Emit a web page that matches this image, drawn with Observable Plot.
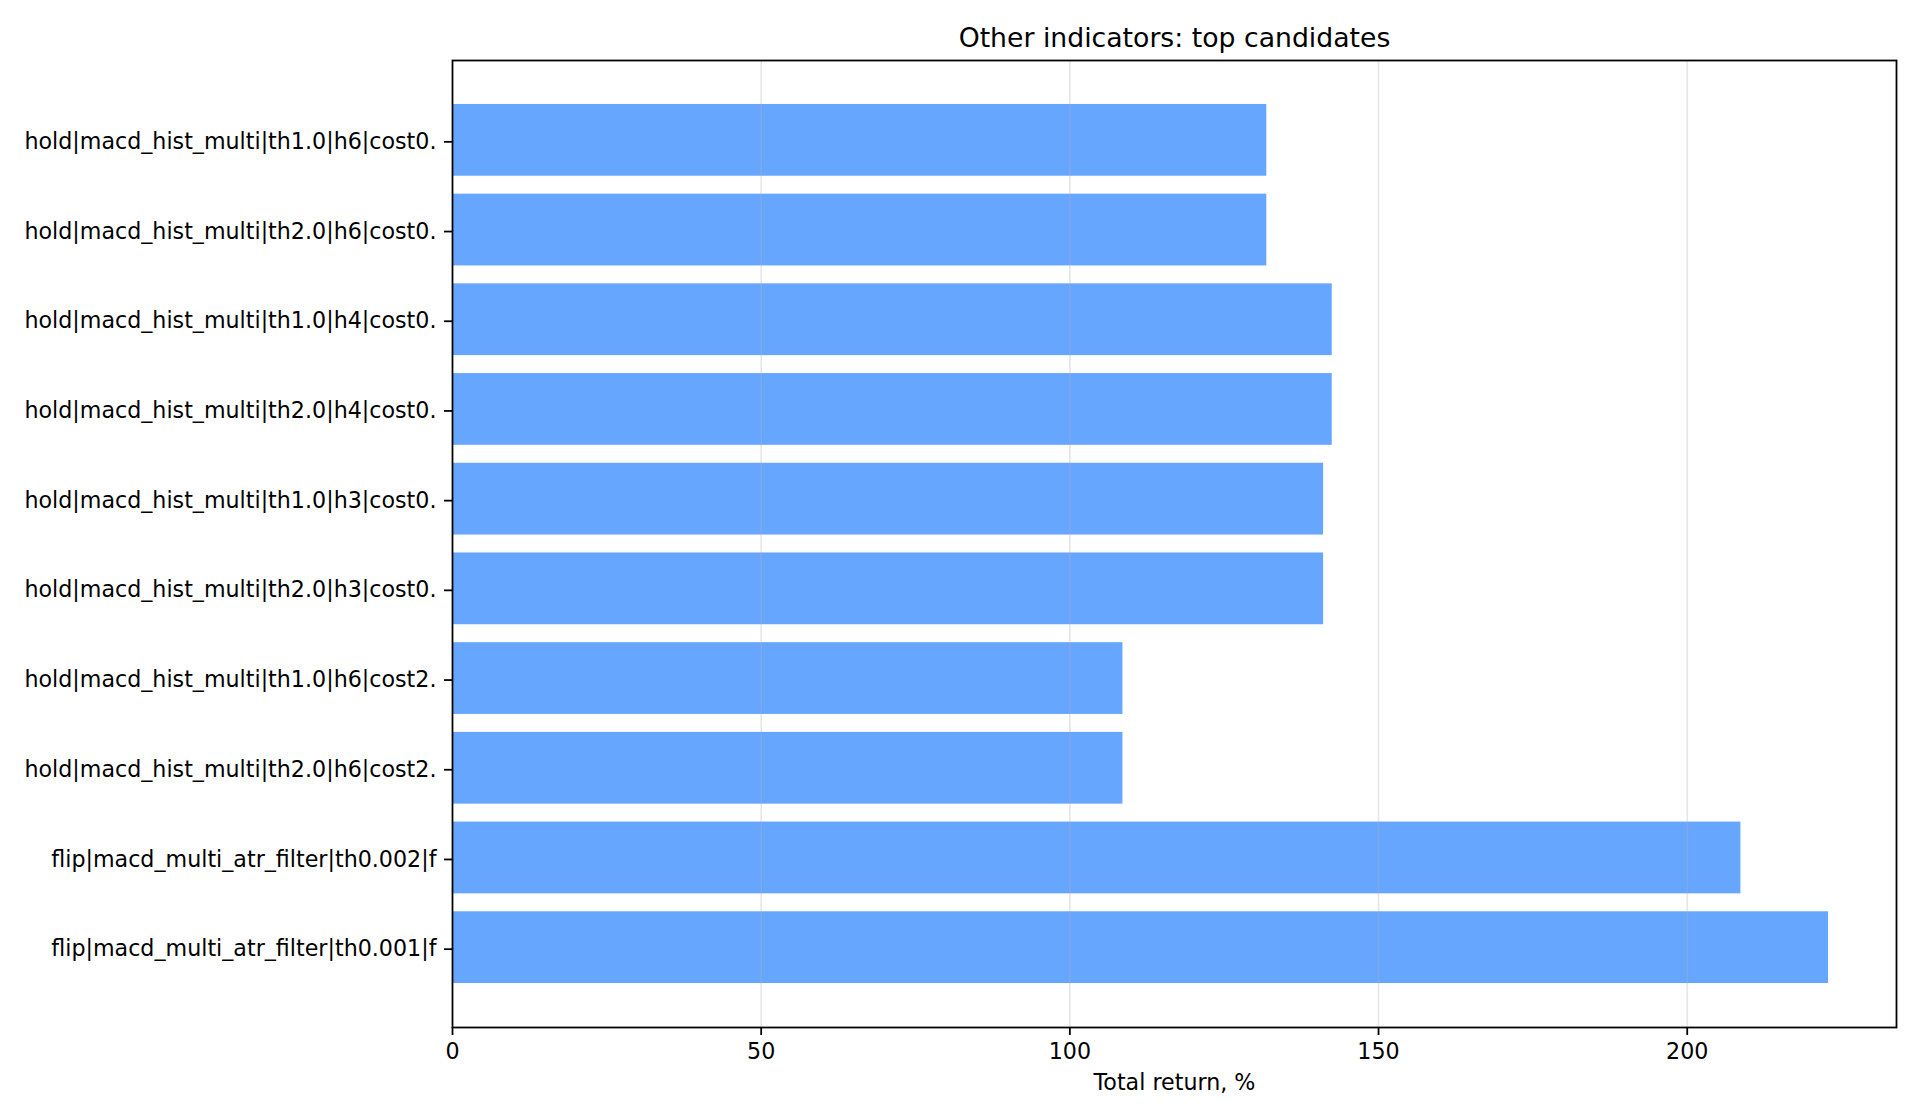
<!DOCTYPE html>
<html>
<head>
<meta charset="utf-8">
<script src="https://cdn.jsdelivr.net/npm/d3@7"></script>
<script src="https://cdn.jsdelivr.net/npm/@observablehq/plot@0.6"></script>
<style>
  html, body { margin: 0; padding: 0; background: #fff; }
</style>
</head>
<body>
<div id="chart"></div>
<script>
const title = "Other indicators: top candidates";
const xLabel = "Total return, %";
const labels = [
  "hold|macd_hist_multi|th1.0|h6|cost0.",
  "hold|macd_hist_multi|th2.0|h6|cost0.",
  "hold|macd_hist_multi|th1.0|h4|cost0.",
  "hold|macd_hist_multi|th2.0|h4|cost0.",
  "hold|macd_hist_multi|th1.0|h3|cost0.",
  "hold|macd_hist_multi|th2.0|h3|cost0.",
  "hold|macd_hist_multi|th1.0|h6|cost2.",
  "hold|macd_hist_multi|th2.0|h6|cost2.",
  "flip|macd_multi_atr_filter|th0.002|f",
  "flip|macd_multi_atr_filter|th0.001|f"
];
const values = [131.9, 131.9, 142.5, 142.5, 141.1, 141.1, 108.6, 108.6, 208.7, 222.9];
const xTicks = [0, 50, 100, 150, 200];
const xMax = 233.9;

const data = labels.map((label, i) => ({label, value: values[i]}));

const fs = 22.2;
const lw = 1.78;
const chart = Plot.plot({
  width: 1920,
  height: 1120,
  marginLeft: 452,
  marginRight: 24,
  marginTop: 60,
  marginBottom: 93,
  style: {fontFamily: "DejaVu Sans", fontSize: fs + "px", color: "#000", background: "#fff"},
  x: {domain: [0, xMax]},
  y: {domain: labels, paddingInner: 0.2, paddingOuter: 0.49, round: false},
  marks: [
    Plot.barX(data, {x: "value", y: "label", fill: "#66a6ff"}),
    Plot.gridX({ticks: xTicks.slice(1), stroke: "#b0b0b0", strokeOpacity: 0.3, strokeWidth: 1.7}),
    Plot.frame({stroke: "#000", strokeWidth: lw}),
    Plot.axisX({ticks: xTicks, tickSize: 8, tickPadding: 8, strokeWidth: lw, label: null, fontSize: fs}),
    Plot.axisY({tickSize: 8, tickPadding: 8, strokeWidth: lw, label: null, fontSize: fs, dy: 1.5}),
    Plot.text([title], {frameAnchor: "top", dy: -22.5, fontSize: 26.7, lineAnchor: "middle", fill: "#000"}),
    Plot.text([xLabel], {frameAnchor: "bottom", dy: 55, fontSize: fs, lineAnchor: "middle", fill: "#000"})
  ]
});
document.getElementById("chart").appendChild(chart);
</script>
</body>
</html>
